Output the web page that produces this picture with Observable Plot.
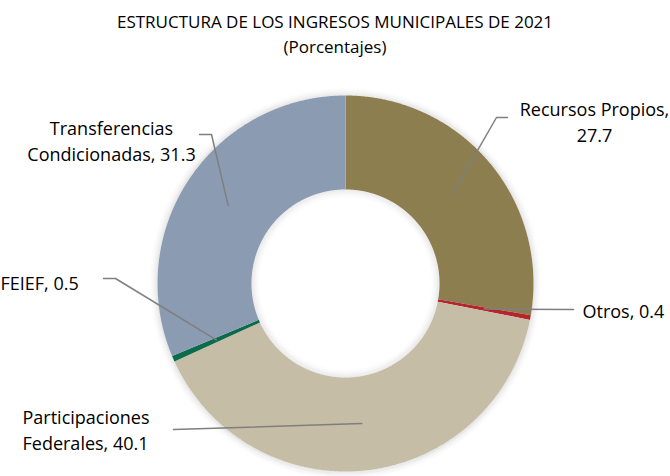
<!DOCTYPE html>
<html>
<head>
<meta charset="utf-8">
<script src="https://cdn.jsdelivr.net/npm/d3@7"></script>
<script src="https://cdn.jsdelivr.net/npm/@observablehq/plot@0.6"></script>
<style>
  html, body { margin: 0; padding: 0; background: #fff; }
  body { width: 670px; height: 476px; overflow: hidden; font-family: "Open Sans", sans-serif; }
  #title { height: 70px; text-align: center; font-size: 17px; line-height: 25px; color: #000; padding-top: 9px; box-sizing: border-box; }
</style>
</head>
<body>
<div id="title">ESTRUCTURA DE LOS INGRESOS MUNICIPALES DE 2021<br>(Porcentajes)</div>
<div id="chart"></div>
<script>
// ---- data ----
const categories = ["Recursos Propios", "Otros", "Participaciones Federales", "FEIEF", "Transferencias Condicionadas"];
const values = [27.7, 0.4, 40.1, 0.5, 31.3];
const colors = ["#8c7e4e", "#b3262b", "#c5bda5", "#0b6b4c", "#8b9bb1"];
const labels = ["Recursos Propios,\n27.7", "Otros, 0.4", "Participaciones\nFederales, 40.1", "FEIEF, 0.5", "Transferencias\nCondicionadas, 31.3"];

// ---- layout (pixels relative to donut centre, y up) ----
const R = 188, innerRatio = 0.5, leaderRatio = 0.75;
const labelPos = [
  {x: 249, y: 163, anchor: "middle"},
  {x: 237, y: -26, anchor: "start"},
  {x: -323, y: -145, anchor: "start"},
  {x: -345, y: 2, anchor: "start"},
  {x: -234, y: 144, anchor: "middle"}
];
const leaderKnees = [
  [[151, 166], [162, 166]],
  [[228, -26]],
  [[-172, -146]],
  [[-230, 5], [-242, 5]],
  [[-134, 149], [-146, 149]]
];

const pie = d3.pie().sort(null).value(d => d.value).startAngle(0).endAngle(2 * Math.PI);
const arcs = pie(categories.map((name, i) => ({name, value: values[i]})));

const sliceData = arcs.map(a => {
  const n = Math.max(4, Math.ceil((a.endAngle - a.startAngle) / 0.005));
  const outer = [], inner = [];
  for (let k = 0; k <= n; k++) {
    const t = a.startAngle + (a.endAngle - a.startAngle) * k / n;
    outer.push([R * Math.sin(t), R * Math.cos(t)]);
    inner.push([R * innerRatio * Math.sin(t), R * innerRatio * Math.cos(t)]);
  }
  return {name: a.data.name, points: [...outer, ...inner.reverse()]};
});
const slicePts = sliceData.flatMap(s => s.points.map(([x, y]) => ({name: s.name, x, y})));

const leaderPts = [];
arcs.forEach((a, i) => {
  const m = (a.startAngle + a.endAngle) / 2;
  leaderPts.push({id: i, x: R * leaderRatio * Math.sin(m), y: R * leaderRatio * Math.cos(m)});
  for (const [x, y] of leaderKnees[i]) leaderPts.push({id: i, x, y});
});

// soft glow around the ring (decorative rings of fading opacity)
const glowSteps = 9;
const outerGlow = d3.range(glowSteps).map(k => ({r: R + k + 0.5, o: 0.09 * (1 - k / glowSteps) ** 1.6}));
const innerGlow = d3.range(glowSteps).map(k => ({r: R * innerRatio - k - 0.5, o: 0.08 * (1 - k / glowSteps) ** 1.6}));

const textData = categories.map((name, i) => ({name, label: labels[i], ...labelPos[i]}));

const chart = Plot.plot({
  width: 670,
  height: 406,
  margin: 0,
  x: {domain: [-345, 325], range: [0, 670], axis: null},
  y: {domain: [-193, 213], range: [406, 0], axis: null},
  color: {domain: categories, range: colors},
  r: {type: "identity"},
  opacity: {type: "identity"},
  style: {fontFamily: "Open Sans, sans-serif", background: "transparent", overflow: "visible"},
  marks: [
    Plot.dot(outerGlow.concat(innerGlow), {x: () => 0, y: () => 0, r: "r", fill: null, stroke: "#000", strokeWidth: 1.1, strokeOpacity: "o"}),
    Plot.line(slicePts, {x: "x", y: "y", z: "name", fill: "name", strokeOpacity: 0, curve: "linear-closed"}),
    Plot.line(leaderPts, {x: "x", y: "y", z: "id", stroke: "#7f7f7f", strokeWidth: 1.5, curve: "linear"}),
    Plot.text(textData.filter(d => d.anchor === "middle"), {x: "x", y: "y", text: "label", textAnchor: "middle", fontSize: 18, lineHeight: 1.45, fill: "#000"}),
    Plot.text(textData.filter(d => d.anchor === "start"), {x: "x", y: "y", text: "label", textAnchor: "start", fontSize: 18, lineHeight: 1.45, fill: "#000"})
  ]
});
document.getElementById("chart").appendChild(chart);
</script>
</body>
</html>
